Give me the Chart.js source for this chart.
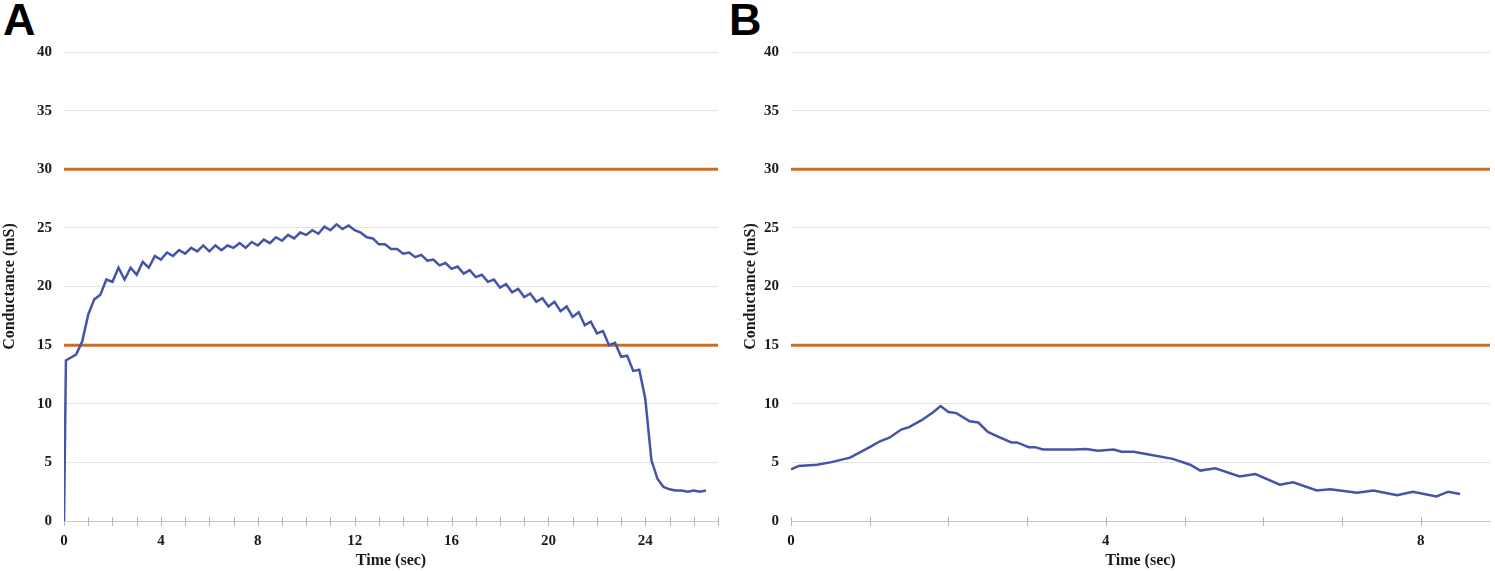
<!DOCTYPE html>
<html>
<head>
<meta charset="utf-8">
<script src="https://cdn.jsdelivr.net/npm/chart.js@4"></script>
<style>
  html, body { margin: 0; padding: 0; background: #fff; }
  body { width: 1495px; height: 571px; position: relative; overflow: hidden; }
  canvas { position: absolute; top: 0; }
  .panel { position: absolute; top: -3px; font: bold 45px "Liberation Sans", Arial, sans-serif; line-height: 45px; color: #000; }
</style>
</head>
<body>
<div class="panel" style="left:3px">A</div>
<div class="panel" style="left:729px">B</div>
<canvas id="chartA" width="735" height="571" style="left:0"></canvas>
<canvas id="chartB" width="754" height="571" style="left:741px"></canvas>
<script>
// panel A: time (sec) and conductance (mS)
const timeA = [0, 0.08, 0.25, 0.5, 0.75, 1, 1.25, 1.5, 1.75, 2, 2.25, 2.5, 2.75, 3, 3.25, 3.5, 3.75,
  4, 4.25, 4.5, 4.75, 5, 5.25, 5.5, 5.75, 6, 6.25, 6.5, 6.75, 7, 7.25, 7.5, 7.75,
  8, 8.25, 8.5, 8.75, 9, 9.25, 9.5, 9.75, 10, 10.25, 10.5, 10.75, 11, 11.25, 11.5, 11.75,
  12, 12.25, 12.5, 12.75, 13, 13.25, 13.5, 13.75, 14, 14.25, 14.5, 14.75, 15, 15.25, 15.5, 15.75,
  16, 16.25, 16.5, 16.75, 17, 17.25, 17.5, 17.75, 18, 18.25, 18.5, 18.75, 19, 19.25, 19.5, 19.75,
  20, 20.25, 20.5, 20.75, 21, 21.25, 21.5, 21.75, 22, 22.25, 22.5, 22.75, 23, 23.25, 23.5, 23.75,
  24, 24.25, 24.5, 24.75, 25, 25.25, 25.5, 25.75, 26, 26.25, 26.5];
const condA = [0, 13.7, 13.9, 14.2, 15.3, 17.6, 18.9, 19.3, 20.6, 20.4, 21.6, 20.6, 21.6, 21.0, 22.1, 21.6, 22.6,
  22.3, 22.9, 22.6, 23.1, 22.8, 23.3, 23.0, 23.5, 23.0, 23.5, 23.1, 23.5, 23.3, 23.7, 23.3, 23.8,
  23.5, 24.0, 23.7, 24.2, 23.9, 24.4, 24.1, 24.6, 24.4, 24.8, 24.5, 25.1, 24.8, 25.3, 24.9, 25.2,
  24.8, 24.6, 24.2, 24.1, 23.6, 23.6, 23.2, 23.2, 22.8, 22.9, 22.5, 22.7, 22.2, 22.3, 21.8, 22.0,
  21.5, 21.7, 21.1, 21.4, 20.8, 21.0, 20.4, 20.6, 19.9, 20.2, 19.5, 19.8, 19.1, 19.4, 18.7, 19.0,
  18.3, 18.7, 17.9, 18.3, 17.4, 17.8, 16.7, 17.0, 16.0, 16.2, 15.0, 15.2, 14.0, 14.1, 12.8, 12.9,
  10.4, 5.2, 3.6, 2.9, 2.7, 2.6, 2.6, 2.5, 2.6, 2.5, 2.6];

// panel B
const timeB = [0, 0.1, 0.33, 0.5, 0.75, 1, 1.13, 1.25, 1.4, 1.5, 1.66, 1.81, 1.9, 2, 2.1, 2.27, 2.38,
  2.5, 2.63, 2.8, 2.87, 3.02, 3.1, 3.2, 3.6, 3.75, 3.9, 4.1, 4.2, 4.35, 4.6, 4.85, 5.07, 5.2,
  5.39, 5.7, 5.9, 6.21, 6.38, 6.68, 6.85, 7.19, 7.4, 7.7, 7.9, 8.2, 8.35, 8.5];
const condB = [4.4, 4.7, 4.8, 5.0, 5.4, 6.3, 6.8, 7.1, 7.8, 8.0, 8.6, 9.3, 9.8, 9.3, 9.2, 8.5, 8.4,
  7.6, 7.2, 6.7, 6.7, 6.3, 6.3, 6.1, 6.1, 6.15, 6.0, 6.1, 5.9, 5.9, 5.6, 5.3, 4.8, 4.3,
  4.5, 3.8, 4.0, 3.1, 3.3, 2.6, 2.7, 2.4, 2.6, 2.2, 2.5, 2.1, 2.5, 2.3];

// reference lines (mS)
const thresholds = [15, 30];
const xMaxA = 27;
const xMaxB = 8.88;

const blue = '#4454a8';
const orange = '#c4702c';
const tickFont = { family: 'Liberation Serif', size: 15, weight: 'bold' };
const titleFont = { family: 'Liberation Serif', size: 16, weight: 'bold' };

// small tick marks crossing the time axis, like the original
const tickMarks = {
  id: 'tickMarks',
  beforeDatasetsDraw(chart) {
    const x = chart.scales.x, ctx = chart.ctx, y0 = chart.chartArea.bottom;
    ctx.save();
    ctx.strokeStyle = '#b5b5b5';
    ctx.lineWidth = 1;
    x.ticks.forEach(t => {
      const px = Math.round(x.getPixelForValue(t.value)) + 0.5;
      ctx.beginPath();
      ctx.moveTo(px, y0 - 4);
      ctx.lineTo(px, y0 + 5);
      ctx.stroke();
    });
    ctx.restore();
  }
};

function makeChart(id, times, values, xMax, yWidth, padRight) {
  const datasets = [{
    data: times.map((t, i) => ({ x: t, y: values[i] })),
    borderColor: blue,
    borderWidth: 2.5,
    pointRadius: 0,
    tension: 0
  }];
  thresholds.forEach(v => {
    datasets.push({
      data: [{ x: 0, y: v }, { x: xMax, y: v }],
      borderColor: orange,
      borderWidth: 3,
      pointRadius: 0
    });
  });

  return new Chart(document.getElementById(id), {
    type: 'line',
    data: { datasets },
    plugins: [tickMarks],
    options: {
      responsive: false,
      animation: false,
      layout: { padding: { top: 52, right: padRight, bottom: 0, left: 0 } },
      plugins: { legend: { display: false }, tooltip: { enabled: false } },
      scales: {
        x: {
          type: 'linear',
          min: 0,
          max: xMax,
          afterFit: s => { s.height = 50; },
          afterBuildTicks: s => { s.ticks = s.ticks.filter(t => Number.isInteger(t.value)); },
          border: { display: true, color: '#c8c8c8', width: 1 },
          grid: { drawOnChartArea: false, drawTicks: false },
          ticks: {
            stepSize: 1,
            padding: 11,
            autoSkip: false,
            maxRotation: 0,
            color: '#1a1a1a',
            font: tickFont,
            callback: v => (v % 4 === 0 ? v : '')
          },
          title: { display: true, text: 'Time (sec)', color: '#1a1a1a', font: titleFont, padding: { top: 0, bottom: 1 } }
        },
        y: {
          min: 0,
          max: 40,
          afterFit: s => { s.width = yWidth; },
          border: { display: false },
          grid: { color: '#e3e3e3', drawTicks: false },
          ticks: { stepSize: 5, padding: 12, color: '#1a1a1a', font: tickFont },
          title: { display: true, text: 'Conductance (mS)', color: '#1a1a1a', font: titleFont, padding: { top: 0, bottom: 0 } }
        }
      }
    }
  });
}

makeChart('chartA', timeA, condA, xMaxA, 64, 17);
makeChart('chartB', timeB, condB, xMaxB, 50, 5);
</script>
</body>
</html>
